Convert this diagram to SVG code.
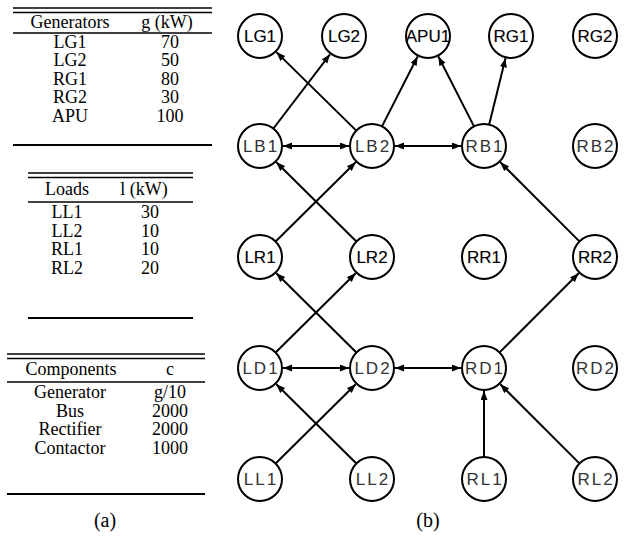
<svg xmlns="http://www.w3.org/2000/svg" width="627" height="536" viewBox="0 0 627 536">
<style>
.t{font-family:"Liberation Serif","Times New Roman",serif;font-size:18px;fill:#000;text-anchor:middle}
.cap{font-size:20px}
.r{stroke:#000;stroke-width:1.3}
.rb{stroke:#000;stroke-width:2}
.n circle{fill:#fff;stroke:#000;stroke-width:2}
.b{font-family:"Liberation Sans",Arial,sans-serif;font-size:17px;fill:#000;text-anchor:middle;stroke:#000;stroke-width:0.15}
.l{font-family:"Liberation Sans",Arial,sans-serif;font-size:17px;fill:#333;text-anchor:middle;letter-spacing:2px;font-weight:300}
.e line{stroke:#000;stroke-width:2}
</style>
<defs>
<marker id="ah" markerUnits="userSpaceOnUse" markerWidth="10" markerHeight="8" refX="9" refY="3.5" orient="auto-start-reverse">
<path d="M0,0 L9,3.5 L0,7 z" fill="#000"/>
</marker>
</defs>
<rect width="627" height="536" fill="#fff"/>
<g id="table-generators">
<line class="r" x1="13" y1="8" x2="212" y2="8"/>
<line class="r" x1="13" y1="12.5" x2="212" y2="12.5"/>
<text class="t" x="70" y="28">Generators</text>
<text class="t" x="167" y="28">g  (kW)</text>
<line class="r" x1="13" y1="33" x2="212" y2="33"/>
<text class="t" x="70" y="47.5">LG1</text><text class="t" x="170" y="47.5">70</text>
<text class="t" x="70" y="66">LG2</text><text class="t" x="170" y="66">50</text>
<text class="t" x="70" y="84.5">RG1</text><text class="t" x="170" y="84.5">80</text>
<text class="t" x="70" y="103">RG2</text><text class="t" x="170" y="103">30</text>
<text class="t" x="70" y="121.5">APU</text><text class="t" x="170" y="121.5">100</text>
<line class="rb" x1="13" y1="145" x2="212" y2="145"/>
</g>
<g id="table-loads">
<line class="r" x1="28" y1="173" x2="193" y2="173"/>
<line class="r" x1="28" y1="177.5" x2="193" y2="177.5"/>
<text class="t" x="67" y="195">Loads</text>
<text class="t" x="144" y="195">l (kW)</text>
<line class="r" x1="28" y1="202" x2="193" y2="202"/>
<text class="t" x="67" y="218">LL1</text><text class="t" x="150" y="218">30</text>
<text class="t" x="67" y="236.5">LL2</text><text class="t" x="150" y="236.5">10</text>
<text class="t" x="67" y="255">RL1</text><text class="t" x="150" y="255">10</text>
<text class="t" x="67" y="273.5">RL2</text><text class="t" x="150" y="273.5">20</text>
<line class="rb" x1="28" y1="318" x2="193" y2="318"/>
</g>
<g id="table-components">
<line class="r" x1="7" y1="354" x2="205" y2="354"/>
<line class="r" x1="7" y1="358.5" x2="205" y2="358.5"/>
<text class="t" x="71" y="375">Components</text>
<text class="t" x="170" y="375">c</text>
<line class="r" x1="7" y1="382" x2="205" y2="382"/>
<text class="t" x="70" y="398">Generator</text><text class="t" x="170" y="398">g/10</text>
<text class="t" x="70" y="416.5">Bus</text><text class="t" x="170" y="416.5">2000</text>
<text class="t" x="70" y="435">Rectifier</text><text class="t" x="170" y="435">2000</text>
<text class="t" x="70" y="453.5">Contactor</text><text class="t" x="170" y="453.5">1000</text>
<line class="rb" x1="7" y1="494" x2="205" y2="494"/>
</g>
<text class="t cap" x="105" y="527">(a)</text>
<text class="t cap" x="428" y="527">(b)</text>
<g id="connectors" class="e">
<line x1="273.4" y1="128.5" x2="330.0" y2="54.3" marker-end="url(#ah)"/>
<line x1="356.3" y1="130.6" x2="276.4" y2="52.1" marker-end="url(#ah)"/>
<line x1="382.0" y1="126.4" x2="417.6" y2="56.5" marker-end="url(#ah)"/>
<line x1="474.0" y1="126.4" x2="438.4" y2="56.5" marker-end="url(#ah)"/>
<line x1="489.2" y1="124.6" x2="505.5" y2="58.3" marker-end="url(#ah)"/>
<line x1="283" y1="146" x2="349" y2="146" marker-start="url(#ah)" marker-end="url(#ah)"/>
<line x1="395" y1="146" x2="461" y2="146" marker-start="url(#ah)" marker-end="url(#ah)"/>
<line x1="275.6" y1="241.5" x2="355.7" y2="162.2" marker-end="url(#ah)"/>
<line x1="356.4" y1="241.5" x2="276.3" y2="162.2" marker-end="url(#ah)"/>
<line x1="579.4" y1="241.4" x2="500.3" y2="162.3" marker-end="url(#ah)"/>
<line x1="275.6" y1="352.5" x2="355.7" y2="273.2" marker-end="url(#ah)"/>
<line x1="356.4" y1="352.5" x2="276.3" y2="273.2" marker-end="url(#ah)"/>
<line x1="499.6" y1="352.4" x2="578.7" y2="273.3" marker-end="url(#ah)"/>
<line x1="283" y1="368" x2="349" y2="368" marker-start="url(#ah)" marker-end="url(#ah)"/>
<line x1="395" y1="368" x2="461" y2="368" marker-start="url(#ah)" marker-end="url(#ah)"/>
<line x1="275.6" y1="463.5" x2="355.7" y2="384.2" marker-end="url(#ah)"/>
<line x1="356.4" y1="463.5" x2="276.3" y2="384.2" marker-end="url(#ah)"/>
<line x1="484" y1="457" x2="484" y2="391" marker-end="url(#ah)"/>
<line x1="579.4" y1="463.4" x2="500.3" y2="384.3" marker-end="url(#ah)"/>
</g>
<g id="LG1" class="n"><circle cx="260" cy="36" r="22"/><text class="b" x="260" y="42">LG1</text></g>
<g id="LG2" class="n"><circle cx="344" cy="36" r="22"/><text class="b" x="344" y="42">LG2</text></g>
<g id="APU1" class="n"><circle cx="428" cy="36" r="22"/><text class="b" x="428" y="42">APU1</text></g>
<g id="RG1" class="n"><circle cx="511" cy="36" r="22"/><text class="b" x="511" y="42">RG1</text></g>
<g id="RG2" class="n"><circle cx="595" cy="36" r="22"/><text class="b" x="595" y="42">RG2</text></g>
<g id="LB1" class="n"><circle cx="260" cy="146" r="22"/><text class="l" x="261" y="152">LB1</text></g>
<g id="LB2" class="n"><circle cx="372" cy="146" r="22"/><text class="l" x="373" y="152">LB2</text></g>
<g id="RB1" class="n"><circle cx="484" cy="146" r="22"/><text class="l" x="485" y="152">RB1</text></g>
<g id="RB2" class="n"><circle cx="595" cy="146" r="22"/><text class="l" x="596" y="152">RB2</text></g>
<g id="LR1" class="n"><circle cx="260" cy="257" r="22"/><text class="b" x="260" y="263">LR1</text></g>
<g id="LR2" class="n"><circle cx="372" cy="257" r="22"/><text class="b" x="372" y="263">LR2</text></g>
<g id="RR1" class="n"><circle cx="484" cy="257" r="22"/><text class="b" x="484" y="263">RR1</text></g>
<g id="RR2" class="n"><circle cx="595" cy="257" r="22"/><text class="b" x="595" y="263">RR2</text></g>
<g id="LD1" class="n"><circle cx="260" cy="368" r="22"/><text class="l" x="261" y="374">LD1</text></g>
<g id="LD2" class="n"><circle cx="372" cy="368" r="22"/><text class="l" x="373" y="374">LD2</text></g>
<g id="RD1" class="n"><circle cx="484" cy="368" r="22"/><text class="l" x="485" y="374">RD1</text></g>
<g id="RD2" class="n"><circle cx="595" cy="368" r="22"/><text class="l" x="596" y="374">RD2</text></g>
<g id="LL1" class="n"><circle cx="260" cy="479" r="22"/><text class="l" x="261" y="485">LL1</text></g>
<g id="LL2" class="n"><circle cx="372" cy="479" r="22"/><text class="l" x="373" y="485">LL2</text></g>
<g id="RL1" class="n"><circle cx="484" cy="479" r="22"/><text class="l" x="485" y="485">RL1</text></g>
<g id="RL2" class="n"><circle cx="595" cy="479" r="22"/><text class="l" x="596" y="485">RL2</text></g>
</svg>
